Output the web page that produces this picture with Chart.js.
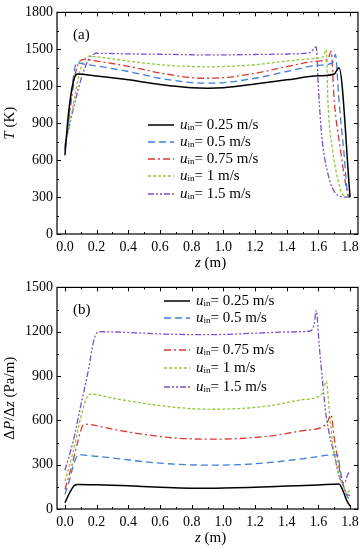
<!DOCTYPE html>
<html>
<head>
<meta charset="utf-8">
<script src="https://cdn.jsdelivr.net/npm/chart.js@4"></script>
<style>
  body { margin: 0; background: #fff; }
  .box { width: 364px; height: 275px; }
</style>
</head>
<body>
<div class="box"><canvas id="chartT" width="364" height="275"></canvas></div>
<div class="box"><canvas id="chartP" width="364" height="275"></canvas></div>
<script>
// series labels (inlet velocity)
var speeds = ['0.25', '0.5', '0.75', '1', '1.5'];
var colors = ['#000000', '#3f7fd8', '#d93a33', '#92c63f', '#7a52c8'];

// (a) temperature T (K) vs z (m)
var zT1 = [0, 0.02, 0.04, 0.06, 0.08, 0.2, 0.4, 0.6, 0.8, 0.9, 1.0, 1.2, 1.4, 1.6, 1.7, 1.73, 1.8];
var T1  = [640, 950, 1150, 1270, 1300, 1283, 1252, 1215, 1188, 1184, 1188, 1218, 1252, 1285, 1300, 1350, 300];
var zT2 = [0, 0.02, 0.04, 0.06, 0.075, 0.1, 0.2, 0.4, 0.6, 0.8, 0.9, 1.0, 1.2, 1.4, 1.6, 1.69, 1.707, 1.73, 1.76, 1.79, 1.8];
var T2  = [700, 900, 1130, 1330, 1395, 1385, 1365, 1320, 1265, 1230, 1225, 1230, 1265, 1320, 1370, 1392, 1458, 1081, 678, 301, 300];
var zT3 = [0, 0.02, 0.04, 0.06, 0.08, 0.1, 0.12, 0.2, 0.4, 0.6, 0.8, 0.9, 1.0, 1.2, 1.4, 1.6, 1.66, 1.68, 1.7, 1.74, 1.77, 1.79, 1.8];
var T3  = [680, 880, 1080, 1260, 1370, 1410, 1418, 1405, 1362, 1308, 1270, 1265, 1270, 1305, 1360, 1405, 1420, 1485, 1081, 678, 420, 310, 300];
var zT4 = [0, 0.03, 0.06, 0.09, 0.12, 0.15, 0.2, 0.4, 0.6, 0.8, 0.9, 1.0, 1.2, 1.4, 1.6, 1.63, 1.65, 1.66, 1.69, 1.72, 1.75, 1.79, 1.8];
var T4  = [700, 900, 1100, 1300, 1410, 1445, 1440, 1405, 1375, 1360, 1358, 1360, 1375, 1405, 1430, 1440, 1498, 1081, 678, 460, 328, 300, 300];
var zT5 = [0, 0.05, 0.1, 0.15, 0.18, 0.2, 0.4, 0.6, 0.8, 1.0, 1.2, 1.4, 1.55, 1.586, 1.6, 1.62, 1.66, 1.71, 1.77, 1.8];
var T5  = [720, 1000, 1250, 1420, 1460, 1468, 1463, 1460, 1456, 1455, 1458, 1462, 1475, 1520, 1189, 812, 490, 328, 300, 300];

// (b) pressure gradient dP/dz (Pa/m) vs z (m)
var zP1 = [0, 0.03, 0.06, 0.08, 0.2, 0.4, 0.6, 0.9, 1.2, 1.4, 1.6, 1.73, 1.76, 1.78, 1.8];
var P1  = [42, 110, 160, 166, 164, 157, 148, 140, 147, 155, 163, 170, 110, 55, 20];
var zP2 = [0, 0.03, 0.06, 0.09, 0.12, 0.3, 0.5, 0.7, 0.9, 1.1, 1.3, 1.5, 1.72, 1.74, 1.76, 1.78, 1.8];
var P2  = [99, 200, 320, 368, 365, 345, 320, 303, 297, 300, 315, 340, 368, 250, 150, 90, 60];
var zP3 = [0, 0.04, 0.08, 0.11, 0.13, 0.3, 0.5, 0.7, 0.9, 1.1, 1.3, 1.5, 1.65, 1.68, 1.7, 1.72, 1.74, 1.76, 1.78, 1.8];
var P3  = [132, 280, 450, 560, 574, 540, 505, 480, 473, 477, 495, 530, 574, 637, 480, 350, 230, 150, 100, 90];
var zP4 = [0, 0.05, 0.1, 0.14, 0.16, 0.3, 0.5, 0.7, 0.9, 1.1, 1.3, 1.5, 1.62, 1.65, 1.67, 1.69, 1.71, 1.73, 1.76, 1.78, 1.8];
var P4  = [188, 380, 620, 760, 778, 750, 715, 688, 675, 680, 700, 740, 776, 865, 650, 450, 330, 230, 150, 110, 130];
var zP5 = [0, 0.05, 0.1, 0.15, 0.18, 0.2, 0.22, 0.4, 0.6, 0.9, 1.2, 1.4, 1.55, 1.575, 1.586, 1.607, 1.63, 1.648, 1.7, 1.743, 1.764, 1.785, 1.795];
var P5  = [262, 450, 700, 950, 1130, 1190, 1200, 1195, 1185, 1180, 1190, 1198, 1205, 1260, 1345, 1085, 820, 637, 368, 188, 177, 233, 250];

var xTicks = [0, 0.2, 0.4, 0.6, 0.8, 1.0, 1.2, 1.4, 1.6, 1.8];
var yTicksT = [0, 300, 600, 900, 1200, 1500, 1800];
var yTicksP = [0, 300, 600, 900, 1200, 1500];

var dashes = [[], [7, 4], [7, 3, 2, 3], [3, 2], [6, 2, 2, 2, 2, 2]];
var serif = "'Liberation Serif', 'Times New Roman', serif";

function pts(xs, ys) {
  var out = [];
  for (var i = 0; i < xs.length; i++) out.push({x: xs[i], y: ys[i]});
  return out;
}

function drawRuns(ctx, runs, x, y) {
  // runs: [text, font, dy]; centred on x
  var w = 0;
  runs.forEach(function(r) { ctx.font = r[1]; w += ctx.measureText(r[0]).width; });
  var cx = x - w / 2;
  runs.forEach(function(r) {
    ctx.font = r[1];
    ctx.fillText(r[0], cx, y + (r[2] || 0));
    cx += ctx.measureText(r[0]).width;
  });
}

function makeChart(id, series, yMax, yTicks, yTitle, panel, legendRows, legendX) {
  var datasets = [];
  for (var i = 0; i < series.length; i++) {
    datasets.push({
      label: speeds[i],
      data: pts(series[i][0], series[i][1]),
      borderColor: colors[i],
      borderWidth: i == 0 ? 1.5 : 1.3,
      borderDash: dashes[i],
      pointRadius: 0,
      fill: false,
      cubicInterpolationMode: 'monotone'
    });
  }

  var framePlugin = {
    id: 'frame',
    afterDraw: function(chart) {
      var ctx = chart.ctx, a = chart.chartArea;
      var xs = chart.scales.x, ys = chart.scales.y;
      ctx.save();
      ctx.strokeStyle = '#000';
      ctx.lineWidth = 1.2;
      ctx.strokeRect(a.left, a.top, a.right - a.left, a.bottom - a.top);
      ctx.lineWidth = 1;
      ctx.beginPath();
      for (var v = 0; v <= 18; v++) {
        var px = Math.round(xs.getPixelForValue(v / 10)) + 0.5;
        var len = v % 2 == 0 ? 4 : 2;
        ctx.moveTo(px, a.bottom); ctx.lineTo(px, a.bottom - len);
        ctx.moveTo(px, a.top); ctx.lineTo(px, a.top + len);
      }
      for (var t = 0; t <= yMax; t += 150) {
        var py = Math.round(ys.getPixelForValue(t)) + 0.5;
        var l2 = t % 300 == 0 ? 4 : 2;
        ctx.moveTo(a.left, py); ctx.lineTo(a.left + l2, py);
        ctx.moveTo(a.right, py); ctx.lineTo(a.right - l2, py);
      }
      ctx.stroke();

      ctx.fillStyle = '#000';
      ctx.textBaseline = 'middle';
      ctx.textAlign = 'left';
      // panel label
      ctx.font = '15px ' + serif;
      ctx.fillText(panel, 73, a.top + 23);

      // legend
      for (var k = 0; k < legendRows.length; k++) {
        var ly = legendRows[k];
        ctx.strokeStyle = colors[k];
        ctx.lineWidth = k == 0 ? 1.5 : 1.3;
        ctx.setLineDash(dashes[k]);
        ctx.beginPath();
        ctx.moveTo(legendX, ly); ctx.lineTo(legendX + 26, ly);
        ctx.stroke();
        ctx.setLineDash([]);
        var tx = legendX + 32;
        ctx.font = 'italic 15px ' + serif;
        ctx.fillText('u', tx, ly);
        tx += ctx.measureText('u').width;
        ctx.font = '9px ' + serif;
        ctx.fillText('in', tx, ly + 3);
        tx += ctx.measureText('in').width;
        ctx.font = '15px ' + serif;
        ctx.fillText('= ' + speeds[k] + ' m/s', tx, ly);
      }

      // x title
      drawRuns(ctx, [['z', 'italic 15px ' + serif], [' (m)', '15px ' + serif]], (a.left + a.right) / 2 + 3, a.bottom + 29);
      // y title
      ctx.translate(10, (a.top + a.bottom) / 2);
      ctx.rotate(-Math.PI / 2);
      drawRuns(ctx, yTitle, 0, 0);
      ctx.restore();
    }
  };

  return new Chart(document.getElementById(id), {
    type: 'line',
    data: {datasets: datasets},
    options: {
      responsive: false,
      animation: false,
      devicePixelRatio: 1,
      layout: {padding: {top: 11, right: 6, left: 0, bottom: 0}},
      plugins: {legend: {display: false}, tooltip: {enabled: false}},
      scales: {
        x: {
          type: 'linear', min: -0.05, max: 1.85,
          afterBuildTicks: function(s) { s.ticks = xTicks.map(function(v) { return {value: v}; }); },
          afterFit: function(s) { s.height = 41; },
          grid: {display: false, drawTicks: false},
          border: {display: false},
          ticks: {
            color: '#000', padding: 5, maxRotation: 0, autoSkip: false,
            font: {family: serif, size: 14},
            callback: function(v) { return v.toFixed(1); }
          }
        },
        y: {
          type: 'linear', min: 0, max: yMax,
          afterBuildTicks: function(s) { s.ticks = yTicks.map(function(v) { return {value: v}; }); },
          afterFit: function(s) { s.width = 57; },
          grid: {display: false, drawTicks: false},
          border: {display: false},
          ticks: {
            color: '#000', padding: 4, font: {family: serif, size: 14},
            callback: function(v) { return String(v); }
          }
        }
      }
    },
    plugins: [framePlugin]
  });
}

makeChart('chartT',
  [[zT1, T1], [zT2, T2], [zT3, T3], [zT4, T4], [zT5, T5]],
  1800, yTicksT,
  [['T', 'italic 15px ' + serif], [' (K)', '15px ' + serif]],
  '(a)', [125, 142, 159, 176, 194], 148);

makeChart('chartP',
  [[zP1, P1], [zP2, P2], [zP3, P3], [zP4, P4], [zP5, P5]],
  1500, yTicksP,
  [['\u0394', '15px ' + serif], ['P', 'italic 15px ' + serif], ['/\u0394', '15px ' + serif],
   ['z', 'italic 15px ' + serif], [' (Pa/m)', '15px ' + serif]],
  '(b)', [26, 43, 75, 93, 112], 164);
</script>
</body>
</html>
